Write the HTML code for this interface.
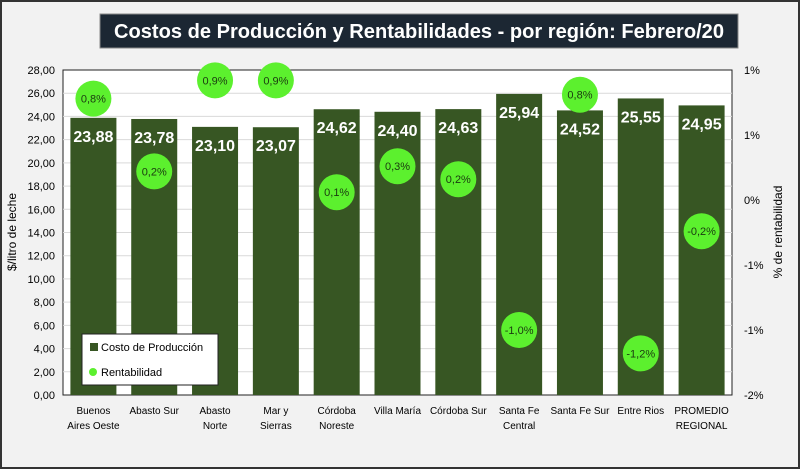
<!DOCTYPE html>
<html><head><meta charset="utf-8"><style>
body{margin:0;background:#fff}
svg{display:block;font-family:"Liberation Sans",sans-serif}
</style></head><body>
<svg id="chart" width="800" height="470" viewBox="0 0 800 470">
<rect x="1" y="1" width="798" height="467" fill="#f2f2f2" stroke="#333" stroke-width="2"/>
<rect x="100" y="14" width="638" height="34" fill="#1c2733" stroke="#888" stroke-width="1"/>
<text x="419" y="38" text-anchor="middle" fill="#fff" font-size="20" font-weight="bold" textLength="610" lengthAdjust="spacingAndGlyphs">Costos de Producción y Rentabilidades - por región: Febrero/20</text>
<rect x="63" y="70" width="669" height="325" fill="#fff" stroke="#222" stroke-width="1"/>
<g id="grid"></g><g id="bars"></g><g id="yl"></g><g id="yr"></g><g id="xl"></g><g id="pts"></g>
<text transform="translate(16,232) rotate(-90)" text-anchor="middle" font-size="12" fill="#000">$/litro de leche</text>
<text transform="translate(782,232) rotate(-90)" text-anchor="middle" font-size="12" fill="#000">% de rentabilidad</text>
<g>
<rect x="82" y="334" width="136" height="51" fill="#fff" stroke="#222" stroke-width="1"/>
<rect x="90" y="343" width="8" height="8" fill="#375623"/>
<text x="101" y="351" font-size="11" fill="#000">Costo de Producción</text>
<circle cx="93" cy="372" r="4" fill="#5cf02e"/>
<text x="101" y="376" font-size="11" fill="#000">Rentabilidad</text>
</g>
</svg>
<script>
const categories=[["Buenos","Aires Oeste"],["Abasto Sur"],["Abasto","Norte"],["Mar y","Sierras"],["Córdoba","Noreste"],["Villa María"],["Córdoba Sur"],["Santa Fe","Central"],["Santa Fe Sur"],["Entre Rios"],["PROMEDIO","REGIONAL"]];
const costos=[23.88,23.78,23.10,23.07,24.62,24.40,24.63,25.94,24.52,25.55,24.95];
const rentab=[0.78,0.22,0.92,0.92,0.06,0.26,0.16,-1.0,0.81,-1.18,-0.24];
const leftTicks=[0,2,4,6,8,10,12,14,16,18,20,22,24,26,28];
const rightTicks=[-1.5,-1.0,-0.5,0,0.5,1.0];
const NS="http://www.w3.org/2000/svg";
const X0=63,X1=732,YT=70,YB=395;
const bw=(X1-X0)/categories.length;
const xC=i=>X0+bw*(i+0.5);
const yL=v=>YB-(v/28)*(YB-YT);
const yR=v=>YB-((v+1.5)/2.5)*(YB-YT);
function mk(tag,at,parent,txt){const e=document.createElementNS(NS,tag);for(const k in at)e.setAttribute(k,at[k]);if(txt!==undefined)e.textContent=txt;document.getElementById(parent).appendChild(e);return e;}
const fmt=(v,d)=>v.toFixed(d).replace('.',',');
const pct=v=>{const r=Math.sign(v)*Math.round(Math.abs(v));return (r===0?0:r)+'%';};
leftTicks.forEach(t=>{
  if(t>0&&t<28){const g=mk('line',{x1:X0,x2:X1,y1:yL(t),y2:yL(t),stroke:'#d9d9d9','stroke-width':1},'grid');
  
  }
  const l=mk('text',{x:X0-8,y:yL(t)+4,'text-anchor':'end','font-size':11,fill:'#000'},'yl',fmt(t,2));
  
  
});
rightTicks.forEach(t=>{
  const l=mk('text',{x:744,y:yR(t)+4,'font-size':11,fill:'#000'},'yr',pct(t));
  
  
});
costos.forEach((v,i)=>{
  const b=mk('rect',{x:xC(i)-23,y:yL(v),width:46,height:YB-yL(v),fill:'#375623'},'bars');
  
  
  const t=mk('text',{x:xC(i),y:yL(v)+24,'text-anchor':'middle','font-size':16,'font-weight':'bold',fill:'#fff'},'bars',fmt(v,2));
  
  
  categories[i].forEach((ln,j)=>{
    const c=mk('text',{x:xC(i),y:414+j*15,'text-anchor':'middle','font-size':10,fill:'#000'},'xl',ln);
    
    
  });
});
rentab.forEach((v,i)=>{
  const c=mk('circle',{cx:xC(i),cy:yR(v),r:18,fill:'#5cf02e'},'pts');
  
  
  const t=mk('text',{x:xC(i),y:yR(v)+4,'text-anchor':'middle','font-size':11,fill:'#1a3a10'},'pts',fmt(v,1)+'%');
  
  
});
</script>
</body></html>
